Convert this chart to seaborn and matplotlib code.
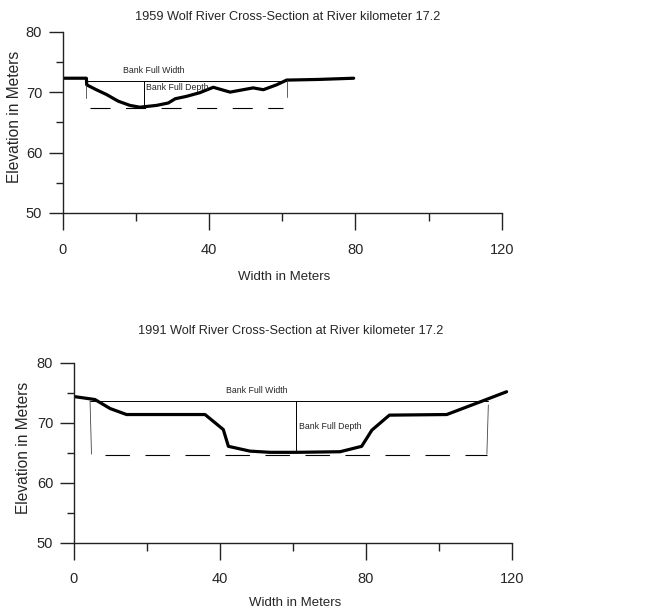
import matplotlib
matplotlib.use("Agg")
import matplotlib.pyplot as plt
import seaborn as sns
import pandas as pd
from matplotlib.ticker import MultipleLocator

# ---- 1959 cross-section ----
x1959 = [0, 6.4, 6.5, 9.1, 11.9, 15.1, 18.3, 21.0, 25.6, 28.8, 30.7, 33.8, 37.4,
         41.1, 45.7, 48.4, 52.0, 54.8, 58.4, 61.2, 62.1, 70.0, 79.5]
y1959 = [72.3, 72.3, 71.2, 70.4, 69.6, 68.5, 67.8, 67.5, 67.8, 68.2, 68.9, 69.3, 69.9,
         70.8, 70.0, 70.3, 70.7, 70.4, 71.2, 72.0, 72.0, 72.1, 72.3]
bfw1959_x = [6.4, 61.3]; bfw1959_y = 71.8
bfd1959_x = 22.1; bfd1959_y = [71.8, 67.3]
dash1959_x = [7.3, 60.3]; dash1959_y = 67.3
edge1959_l = ([6.4, 6.4], [71.2, 69.0]); edge1959_r = ([61.3, 61.3], [72.0, 69.2])
lab1959 = {"Bank Full Width": (24.7, 73.6), "Bank Full Depth": (22.8, 70.7)}

# ---- 1991 cross-section ----
x1991 = [0, 5.75, 9.9, 14.4, 35.9, 40.9, 42.3, 48.2, 53.7, 61.0, 72.9, 78.8,
         81.6, 86.4, 102.1, 111.2, 118.5]
y1991 = [74.4, 73.9, 72.4, 71.4, 71.4, 68.9, 66.1, 65.3, 65.1, 65.1, 65.2, 66.1,
         68.8, 71.3, 71.4, 73.5, 75.2]
bfw1991_x = [4.4, 113.5]; bfw1991_y = 73.7
bfd1991_x = 60.8; bfd1991_y = [73.7, 65.1]
dash1991_x = [8.5, 113.0]; dash1991_y = 64.6
edge1991_l = ([4.4, 4.8], [73.7, 64.8]); edge1991_r = ([113.5, 113.1], [73.0, 64.8])
lab1991 = {"Bank Full Width": (50.0, 75.4), "Bank Full Depth": (61.7, 69.4)}

titles = ["1959 Wolf River Cross-Section at River kilometer 17.2",
          "1991 Wolf River Cross-Section at River kilometer 17.2"]
xticks = [0, 40, 80, 120]
yticks = [50, 60, 70, 80]

sns.set_theme(style="ticks")
plt.rcParams['font.family'] = ['Liberation Sans', 'DejaVu Sans']

fig = plt.figure(figsize=(6.5, 6.1), dpi=100)
ax1 = fig.add_axes([0.0969, 0.651, 0.675, 0.297])
ax2 = fig.add_axes([0.1138, 0.110, 0.674, 0.295])

def draw(ax, xs, ys, bfw_x, bfw_y, bfd_x, bfd_y, dash_x, dash_y, el, er, labs,
         title, dash, xl_y, yl_x, title_x, title_y, xpad):
    df = pd.DataFrame({"w": xs, "e": ys})
    sns.lineplot(data=df, x="w", y="e", sort=False, ax=ax, color="black", lw=2.3)
    ax.plot(bfw_x, [bfw_y, bfw_y], color="black", lw=0.7)
    ax.plot([bfd_x, bfd_x], bfd_y, color="black", lw=0.7)
    ax.plot(dash_x, [dash_y, dash_y], color="black", lw=0.8, linestyle=(0, dash))
    ax.plot(el[0], el[1], color="#444", lw=0.6)
    ax.plot(er[0], er[1], color="#444", lw=0.6)
    (tx, ty) = labs["Bank Full Width"]
    ax.text(tx, ty, "Bank Full Width", ha="center", va="center", fontsize=6.3)
    (tx, ty) = labs["Bank Full Depth"]
    ax.text(tx, ty, "Bank Full Depth", ha="left", va="center", fontsize=6.3)
    ax.set_xlim(0, 120); ax.set_ylim(50, 80)
    ax.set_xticks(xticks); ax.set_yticks(yticks)
    ax.xaxis.set_minor_locator(MultipleLocator(20))
    ax.yaxis.set_minor_locator(MultipleLocator(5))
    for s in ["top", "right"]:
        ax.spines[s].set_visible(False)
    for s in ["left", "bottom"]:
        ax.spines[s].set_color("#222"); ax.spines[s].set_linewidth(1.0)
    ax.tick_params(axis="x", which="major", direction="out", length=12, width=1,
                   color="#222", labelsize=10.5, pad=xpad)
    ax.tick_params(axis="x", which="minor", direction="out", length=6, width=1, color="#222")
    ax.tick_params(axis="y", which="major", direction="out", length=10, width=1,
                   color="#222", labelsize=10.5, pad=5)
    ax.tick_params(axis="y", which="minor", direction="out", length=5, width=1, color="#222")
    ax.set_xlabel("Width in Meters", fontsize=9.5)
    ax.set_ylabel("Elevation in Meters", fontsize=11.2)
    ax.xaxis.set_label_coords(0.505, xl_y)
    ax.xaxis.label.set_va("center")
    ax.yaxis.set_label_coords(yl_x, 0.53)
    ax.yaxis.label.set_va("center")
    ax.set_title(title, fontsize=9.2, x=title_x, y=title_y, va="center", pad=0)

draw(ax1, x1959, y1959, bfw1959_x, bfw1959_y, bfd1959_x, bfd1959_y, dash1959_x,
     dash1959_y, edge1959_l, edge1959_r, lab1959, titles[0], (18, 14), -0.354, -0.11,
     0.512, 1.083, 10)
draw(ax2, x1991, y1991, bfw1991_x, bfw1991_y, bfd1991_x, bfd1991_y, dash1991_x,
     dash1991_y, edge1991_l, edge1991_r, lab1991, titles[1], (22, 14), -0.335, -0.115,
     0.494, 1.176, 9)

fig.savefig("out.png", dpi=100)
